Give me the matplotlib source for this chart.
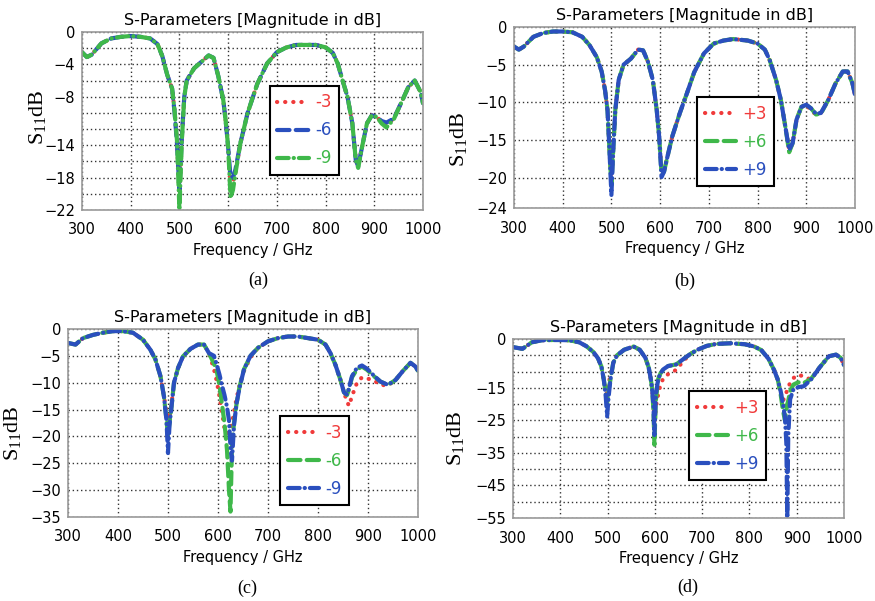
import matplotlib
matplotlib.use("Agg")
import matplotlib.pyplot as plt
from matplotlib.ticker import FixedLocator

# colours of the three traces
RED = "#f03a3a"
GREEN = "#3fb84a"
BLUE = "#2a4fbe"

freq_ticks = [300, 400, 500, 600, 700, 800, 900, 1000]

# ---------------- panel (a) ----------------
fa = [300, 310, 320, 340, 360, 380, 400, 420, 440, 455, 465, 475, 485, 490, 495,
      500, 505, 510, 515, 520, 530, 545, 560, 570, 580, 590, 595, 600, 605, 610,
      615, 625, 640, 660, 680, 700, 720, 740, 760, 780, 800, 815, 825, 835, 845,
      855, 862, 867, 875, 885, 895, 905, 915, 925, 940, 955, 970, 983, 995, 1000]
a_m3 = [-2.5, -3.1, -2.8, -1.4, -0.8, -0.6, -0.5, -0.6, -0.8, -1.5, -3.0, -5.3, -7.0, -9.7, -13.4,
        -20.5, -13.0, -8.0, -6.0, -5.5, -4.5, -3.7, -2.9, -3.2, -5.5, -8.4, -11.0, -14.2, -19.0, -18.5,
        -17.5, -13.8, -10.0, -6.4, -3.9, -2.5, -1.9, -1.6, -1.6, -1.6, -1.9, -2.6, -3.9, -6.0, -8.0,
        -11.3, -15.8, -16.6, -14.2, -11.3, -10.3, -10.5, -11.1, -11.4, -10.7, -8.8, -6.8, -6.0, -7.4, -8.8]
a_m6 = [-2.5, -3.1, -2.8, -1.4, -0.8, -0.6, -0.5, -0.6, -0.8, -1.5, -3.0, -5.3, -7.0, -9.9, -13.8,
        -19.5, -13.0, -8.0, -6.0, -5.5, -4.5, -3.7, -2.9, -3.2, -5.5, -8.4, -11.0, -14.2, -18.0, -18.0,
        -17.0, -13.8, -10.0, -6.4, -3.9, -2.5, -1.9, -1.6, -1.6, -1.6, -1.9, -2.6, -3.9, -6.0, -8.0,
        -11.3, -15.8, -16.6, -14.2, -11.3, -10.3, -10.5, -11.0, -11.2, -10.7, -8.8, -6.8, -6.0, -7.4, -8.8]
a_m9 = [-2.5, -3.1, -2.8, -1.4, -0.8, -0.6, -0.5, -0.6, -0.8, -1.5, -3.0, -5.3, -7.0, -9.7, -13.4,
        -22.0, -13.5, -8.0, -6.0, -5.5, -4.5, -3.7, -2.9, -3.2, -5.5, -8.4, -11.0, -14.2, -20.5, -19.5,
        -17.5, -13.8, -10.0, -6.4, -3.9, -2.5, -1.9, -1.6, -1.6, -1.6, -1.9, -2.6, -3.9, -6.0, -8.0,
        -11.3, -15.8, -16.8, -14.2, -11.3, -10.3, -10.5, -11.3, -11.8, -10.8, -8.8, -6.8, -6.0, -7.4, -8.8]

# ---------------- panel (b) ----------------
fb = [300, 310, 320, 340, 360, 380, 400, 420, 440, 455, 470, 480, 487, 492, 496,
      500, 504, 508, 515, 525, 540, 555, 565, 575, 585, 593, 598, 603, 608, 615,
      625, 640, 655, 670, 690, 710, 730, 750, 780, 800, 815, 825, 838, 848, 857,
      865, 872, 880, 890, 900, 910, 920, 930, 945, 960, 975, 985, 995, 1000]
b_p3 = [-2.6, -3.0, -2.6, -1.3, -0.8, -0.6, -0.6, -0.7, -1.3, -2.4, -4.0, -5.9, -8.4, -11.0, -16.3,
        -20.5, -16.0, -11.0, -7.0, -5.0, -4.2, -3.0, -3.1, -4.6, -7.0, -11.0, -14.5, -19.0, -19.0, -17.2,
        -14.5, -11.5, -8.8, -6.0, -3.5, -2.2, -1.8, -1.6, -1.8, -2.2, -3.0, -4.4, -7.0, -9.7, -13.2,
        -16.3, -15.4, -12.3, -10.6, -10.3, -11.1, -11.6, -11.4, -9.7, -7.5, -5.9, -5.9, -7.5, -9.0]
b_p6 = [-2.6, -3.0, -2.6, -1.3, -0.8, -0.6, -0.6, -0.7, -1.3, -2.4, -4.0, -5.9, -8.4, -11.0, -16.3,
        -21.0, -16.0, -11.0, -7.0, -5.0, -4.2, -3.0, -3.1, -4.6, -7.0, -11.0, -14.5, -19.5, -19.2, -17.2,
        -14.5, -11.5, -8.8, -6.0, -3.5, -2.2, -1.8, -1.6, -1.8, -2.2, -3.0, -4.4, -7.0, -9.7, -13.2,
        -16.6, -15.4, -12.3, -10.6, -10.3, -10.8, -11.6, -11.5, -9.7, -7.5, -5.9, -5.9, -7.5, -9.0]
b_p9 = [-2.6, -3.0, -2.6, -1.3, -0.8, -0.6, -0.6, -0.7, -1.3, -2.4, -4.0, -5.9, -8.4, -11.0, -16.3,
        -22.3, -16.0, -11.0, -7.0, -5.0, -4.2, -3.0, -3.1, -4.6, -7.0, -11.0, -14.5, -19.9, -19.2, -17.2,
        -14.5, -11.5, -8.8, -6.0, -3.5, -2.2, -1.8, -1.6, -1.8, -2.2, -3.0, -4.4, -7.0, -9.7, -13.2,
        -16.3, -15.4, -12.3, -10.6, -10.3, -10.8, -11.5, -11.4, -9.7, -7.5, -5.9, -5.9, -7.5, -9.0]

# ---------------- panel (c) ----------------
fc = [300, 315, 330, 350, 370, 390, 410, 430, 450, 465, 475, 485, 492, 497, 500,
      503, 507, 512, 520, 530, 545, 560, 572, 582, 592, 597, 603, 608, 613, 618,
      622, 625, 628, 632, 637, 643, 652, 665, 680, 700, 720, 740, 760, 780, 800,
      815, 825, 835, 845, 852, 858, 862, 868, 878, 888, 898, 912, 925, 940, 955,
      970, 985, 995, 1000]
c_m3 = [-2.6, -2.9, -1.7, -1.1, -0.7, -0.4, -0.4, -0.7, -2.0, -3.9, -5.7, -8.8, -12.6, -15.5, -17.6,
        -16.5, -14.0, -10.0, -7.3, -5.1, -3.7, -2.9, -2.9, -4.5, -7.5, -9.5, -12.5, -15.5, -18.5, -19.5,
        -19.0, -18.5, -17.5, -15.5, -13.0, -10.5, -7.8, -5.3, -3.5, -2.3, -1.7, -1.4, -1.4, -1.7, -2.0,
        -2.9, -4.5, -6.7, -9.5, -11.8, -13.5, -14.3, -12.5, -10.0, -9.0, -9.2, -9.6, -10.4, -10.5, -9.5,
        -7.8, -6.3, -7.0, -7.8]
c_m6 = [-2.6, -2.9, -1.7, -1.1, -0.7, -0.4, -0.4, -0.7, -2.0, -3.9, -5.7, -8.8, -12.6, -17.0, -20.0,
        -17.5, -14.5, -10.0, -7.3, -5.1, -3.7, -2.9, -2.9, -4.5, -6.5, -7.6, -10.5, -14.0, -17.5, -22.5,
        -30.0, -34.0, -22.0, -17.5, -14.0, -10.8, -7.5, -5.0, -3.5, -2.3, -1.7, -1.4, -1.4, -1.7, -2.0,
        -2.9, -4.5, -6.7, -9.5, -11.8, -12.3, -11.2, -9.0, -7.5, -7.0, -7.6, -8.8, -9.8, -10.4, -9.5,
        -7.8, -6.3, -7.0, -7.8]
c_m9 = [-2.6, -2.9, -1.7, -1.1, -0.7, -0.4, -0.4, -0.7, -2.0, -3.9, -5.7, -8.8, -12.6, -17.0, -23.1,
        -18.0, -14.5, -10.0, -7.3, -5.1, -3.7, -2.9, -2.9, -4.5, -5.0, -6.5, -8.5, -10.5, -12.3, -14.5,
        -17.0, -22.0, -24.5, -18.0, -13.9, -11.0, -7.5, -5.0, -3.5, -2.3, -1.7, -1.4, -1.4, -1.7, -2.0,
        -2.9, -4.5, -6.7, -9.5, -11.8, -12.2, -11.0, -8.8, -7.2, -6.8, -7.4, -8.7, -9.8, -10.4, -9.5,
        -7.8, -6.3, -7.0, -7.8]

# ---------------- panel (d) ----------------
fd = [300, 320, 340, 360, 380, 400, 420, 440, 455, 470, 480, 487, 492, 496, 499,
      502, 506, 512, 520, 535, 555, 568, 580, 587, 591, 594, 597, 599, 602, 607,
      612, 618, 628, 645, 660, 675, 690, 710, 730, 760, 790, 810, 825, 840, 852,
      860, 866, 871, 875, 878, 880, 882, 886, 893, 903, 915, 930, 948, 968, 983,
      993, 1000]
d_p3 = [-2.5, -3.0, -1.0, -0.4, -0.3, -0.3, -0.4, -1.0, -2.2, -4.0, -6.0, -8.5, -12.5, -15.5, -17.0,
        -14.0, -11.0, -7.3, -5.0, -3.3, -2.3, -3.3, -5.8, -8.8, -12.0, -15.0, -20.0, -27.0, -21.0, -17.0,
        -14.0, -12.0, -10.8, -9.5, -6.8, -4.6, -3.3, -2.1, -1.5, -1.3, -1.6, -2.3, -3.4, -6.0, -9.5,
        -12.5, -16.5, -19.0, -17.5, -16.5, -15.5, -14.8, -13.5, -12.0, -11.0, -11.5, -12.5, -8.8, -5.3, -4.8,
        -5.8, -8.0]
d_p6 = [-2.5, -3.0, -1.0, -0.4, -0.3, -0.3, -0.4, -1.0, -2.2, -4.0, -6.0, -8.5, -12.5, -16.5, -19.5,
        -16.0, -12.5, -7.3, -5.0, -3.3, -2.3, -3.3, -5.8, -8.8, -12.0, -15.0, -22.0, -32.5, -19.0, -12.3,
        -10.5, -9.3, -8.3, -7.8, -6.2, -4.6, -3.3, -2.1, -1.5, -1.3, -1.6, -2.3, -3.4, -6.0, -9.5,
        -12.5, -17.0, -22.0, -25.0, -22.0, -20.0, -19.0, -16.0, -14.0, -13.3, -13.5, -12.3, -8.8, -5.3, -4.8,
        -5.8, -8.0]
d_p9 = [-2.5, -3.0, -1.0, -0.4, -0.3, -0.3, -0.4, -1.0, -2.2, -4.0, -6.0, -8.5, -12.5, -17.5, -23.8,
        -18.0, -12.5, -7.3, -5.0, -3.3, -2.3, -3.3, -5.8, -8.8, -12.0, -15.0, -20.5, -29.5, -17.3, -12.3,
        -10.5, -9.3, -8.3, -7.8, -6.2, -4.6, -3.3, -2.1, -1.5, -1.3, -1.6, -2.3, -3.4, -6.0, -9.5,
        -12.5, -16.0, -20.0, -24.0, -32.0, -55.0, -30.0, -18.5, -15.5, -14.8, -14.5, -12.5, -8.8, -5.3, -4.8,
        -5.8, -8.0]

# y ticks (labels) and grid steps per panel
a_yticks = [0, -4, -8, -14, -18, -22]
b_yticks = [0, -5, -10, -15, -20, -24]
c_yticks = [0, -5, -10, -15, -20, -25, -30, -35]
d_yticks = [0, -15, -25, -35, -45, -55]

DOT = (0, (0.05, 1.9))
DASH = (0, (3.0, 1.5))
DASHDOT = (0, (2.8, 1.2, 0.05, 1.2))


def draw_panel(rect, freq, series, ylim, yticks, ygrid, leg_pos, ylab_xy, caption, cap_xy):
    ax = fig.add_axes(rect)
    for vals, color, ls, label in series:
        ax.plot(freq, vals, color=color, linestyle=ls, linewidth=3.0,
                dash_capstyle="round", solid_capstyle="round", label=label)

    ax.set_xlim(300, 1000)
    ax.set_ylim(ylim, 0)
    ax.set_xticks(freq_ticks)
    ax.set_yticks(yticks)
    ax.yaxis.set_minor_locator(FixedLocator(ygrid))
    ax.xaxis.grid(True, color="#333333", linestyle=(0, (1, 2)), linewidth=1.0)
    ax.yaxis.grid(True, which="both", color="#333333", linestyle=(0, (1, 2)), linewidth=1.0)
    ax.tick_params(axis="both", which="both", length=0, labelsize=10.5)
    ax.tick_params(axis="x", pad=9)
    ax.tick_params(axis="y", pad=5)
    for sp in ax.spines.values():
        sp.set_color("#999999")
        sp.set_linewidth(1.2)

    ax.set_title("S-Parameters [Magnitude in dB]", fontsize=11.5, pad=5)
    ax.set_xlabel("Frequency / GHz", fontsize=10.5, labelpad=4)
    ax.set_ylabel(r"$\mathregular{S_{11}dB}$", fontsize=16, family="Liberation Serif")
    ax.yaxis.set_label_coords(*ylab_xy)

    leg = ax.legend(loc="upper left", bbox_to_anchor=leg_pos, fontsize=12,
                    frameon=True, fancybox=False, handlelength=1.9, handletextpad=0.35,
                    borderpad=0.45, labelspacing=0.6, borderaxespad=0)
    leg.get_frame().set_edgecolor("black")
    leg.get_frame().set_linewidth(1.5)
    leg.get_frame().set_alpha(1)
    for txt, (_, color, _, _) in zip(leg.get_texts(), series):
        txt.set_color(color)

    fig.text(cap_xy[0], cap_xy[1], caption, fontsize=13, family="Liberation Serif",
             ha="center", va="center")
    return ax


fig = plt.figure(figsize=(8.75, 6.01), dpi=100)

draw_panel([0.0937, 0.6506, 0.3897, 0.2962], fa,
           [(a_m3, RED, DOT, "-3"), (a_m6, BLUE, DASH, "-6"), (a_m9, GREEN, DASHDOT, "-9")],
           -22, a_yticks, list(range(0, -23, -2)), (0.551, 0.697), (-0.10, 0.52), "(a)",
           (258 / 875, 1 - 280 / 601))

draw_panel([0.5874, 0.6539, 0.3897, 0.3012], fb,
           [(b_p3, RED, DOT, "+3"), (b_p6, GREEN, DASH, "+6"), (b_p9, BLUE, DASHDOT, "+9")],
           -24, b_yticks, [0, -5, -10, -15, -20, -24], (0.537, 0.613), (-0.132, 0.38), "(b)",
           (685 / 875, 1 - 281 / 601))

draw_panel([0.0777, 0.1398, 0.4, 0.3128], fc,
           [(c_m3, RED, DOT, "-3"), (c_m6, GREEN, DASH, "-6"), (c_m9, BLUE, DASHDOT, "-9")],
           -35, c_yticks, c_yticks, (0.606, 0.537), (-0.129, 0.447), "(c)",
           (247 / 875, 1 - 588 / 601))

draw_panel([0.5863, 0.1381, 0.3783, 0.2978], fd,
           [(d_p3, RED, DOT, "+3"), (d_p6, GREEN, DASH, "+6"), (d_p9, BLUE, DASHDOT, "+9")],
           -55, d_yticks, list(range(0, -56, -5)), (0.532, 0.709), (-0.142, 0.447), "(d)",
           (688 / 875, 1 - 587 / 601))

fig.savefig("out.png", dpi=100)
